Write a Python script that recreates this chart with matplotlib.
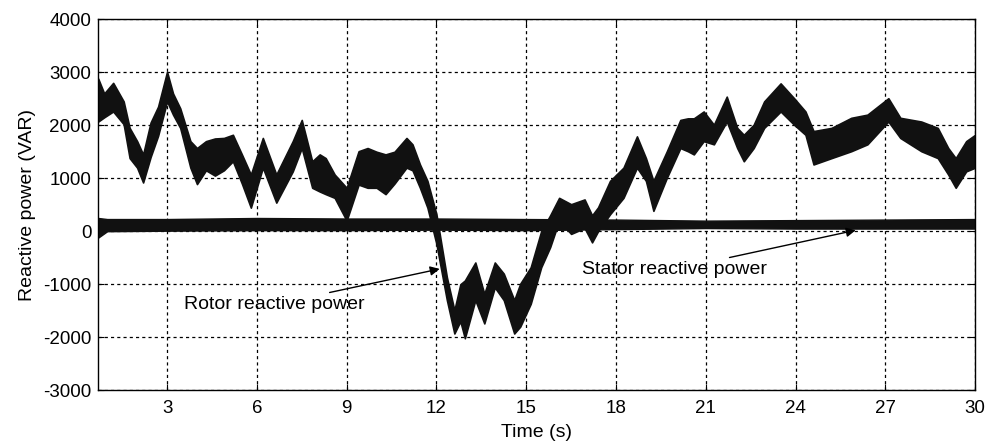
import matplotlib.pyplot as plt

plt.rcParams['font.family'] = ['Liberation Sans', 'DejaVu Sans']
plt.rcParams['axes.unicode_minus'] = False  # дефис вместо длинного минуса

# огибающая шумного сигнала ротора (время, верх, низ)
rotor_t = [0.7, 0.9, 1.2, 1.55, 1.75, 2.0, 2.2, 2.45, 2.7, 3.0, 3.2, 3.44, 3.78, 4.0,
           4.3, 4.6, 4.9, 5.2, 5.5, 5.8, 6.2, 6.65, 7.2, 7.5, 7.85, 8.1, 8.3, 8.6, 9.0,
           9.4, 9.7, 10.0, 10.3, 10.6, 11.0, 11.2, 11.45, 11.7, 12.0, 12.35, 12.6, 12.8,
           12.95, 13.3, 13.6, 13.95, 14.25, 14.6, 14.8, 15.15, 15.5, 15.8, 16.1, 16.5,
           16.95, 17.2, 17.4, 17.8, 18.25, 18.7, 19.0, 19.25, 19.7, 20.15, 20.4, 20.6,
           20.93, 21.27, 21.7, 22.05, 22.27, 22.6, 22.95, 23.5, 23.95, 24.33, 24.6, 25.2,
           25.86, 26.4, 27.1, 27.5, 28.2, 28.75, 29.1, 29.35, 29.7, 30.0]
rotor_up = [2880, 2600, 2800, 2450, 1950, 1700, 1450, 2050, 2350, 3010, 2600, 2320, 1700, 1570,
            1700, 1750, 1760, 1820, 1450, 1070, 1760, 1070, 1700, 2100, 1320, 1450, 1380, 1070, 820,
            1510, 1570, 1500, 1450, 1500, 1760, 1640, 1260, 950, 320, -870, -1490, -1000,
            -930, -590, -1180, -590, -800, -1300, -990, -680, 0, 300, 630, 510,
            600, 300, 450, 950, 1200, 1790, 1380, 950, 1510, 2100, 2130, 2130,
            2260, 2010, 2540, 1950, 1820, 2010, 2450, 2790, 2510, 2260, 1890, 1950,
            2140, 2200, 2510, 2140, 2070, 1950, 1570, 1380, 1700, 1820]
rotor_lo = [2070, 2150, 2260, 2020, 1380, 1200, 920, 1400, 1800, 2450, 2200, 1950, 1200, 890,
            1150, 1050, 1150, 1320, 900, 445, 1200, 540, 1130, 1570, 820, 750, 700, 630, 200,
            880, 820, 820, 700, 900, 1200, 1150, 820, 445, -240, -1300, -1930, -1700,
            -2020, -1300, -1740, -1060, -1300, -1930, -1800, -1370, -680, -300, 200, -50,
            60, -210, 0, 320, 630, 1200, 950, 385, 1010, 1570, 1510, 1450,
            1700, 1640, 2070, 1570, 1320, 1570, 1950, 2260, 2010, 1820, 1260, 1380,
            1510, 1640, 2070, 1760, 1510, 1380, 1070, 820, 1130, 1200]

# огибающая сигнала статора
stator_t = [0.7, 1.0, 3, 6, 9, 12, 15, 18, 21, 24, 27, 30]
stator_up = [250, 230, 230, 250, 240, 240, 230, 220, 200, 210, 220, 230]
stator_lo = [-120, 0, 10, 20, 20, 30, 20, 40, 60, 50, 50, 50]

x_ticks = [3, 6, 9, 12, 15, 18, 21, 24, 27, 30]
y_ticks = [-3000, -2000, -1000, 0, 1000, 2000, 3000, 4000]

fig = plt.figure(figsize=(9.87, 4.48), dpi=100)
ax = fig.add_axes([0.0995, 0.129, 0.8885, 0.828])

ax.fill_between(rotor_t, rotor_lo, rotor_up, color='#111111', lw=1.2, edgecolor='#111111')
ax.fill_between(stator_t, stator_lo, stator_up, color='#111111', lw=1.0, edgecolor='#111111')

ax.set_xlim(0.7, 30)
ax.set_ylim(-3000, 4000)
ax.set_xticks(x_ticks)
ax.set_yticks(y_ticks)
ax.tick_params(direction='in', top=True, right=True, labelsize=13.5, length=4)
ax.tick_params(axis='x', pad=7)
ax.tick_params(axis='y', pad=5)
ax.grid(True, color='black', linestyle=(0, (2.5, 2.5)), linewidth=0.9)
ax.set_axisbelow(True)
for s in ax.spines.values():
    s.set_linewidth(1.0)

ax.set_xlabel('Time (s)', fontsize=14, labelpad=5)
ax.set_ylabel('Reactive power (VAR)', fontsize=14, labelpad=5)

ax.annotate('Rotor reactive power', xy=(12.2, -700), xytext=(9.6, -1380),
            ha='right', va='center', fontsize=14,
            arrowprops=dict(arrowstyle='-|>', color='black', lw=1, mutation_scale=14))
ax.annotate('Stator reactive power', xy=(26.1, 30), xytext=(23.05, -720),
            ha='right', va='center', fontsize=14,
            arrowprops=dict(arrowstyle='-|>', color='black', lw=1, mutation_scale=14))

fig.savefig('out.png', dpi=100)
